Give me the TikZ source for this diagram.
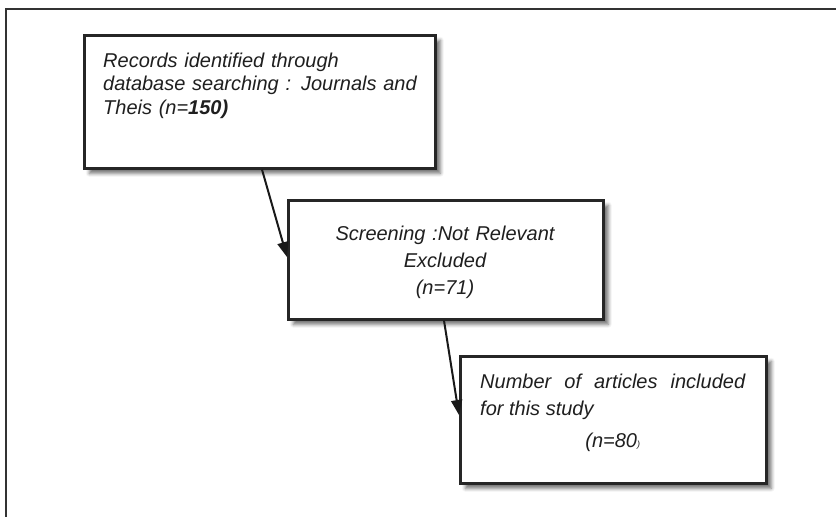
\documentclass[tikz,border=0pt]{standalone}
\usepackage{fontspec}
\setmainfont{Liberation Sans}
\usetikzlibrary{calc,shadows.blur,arrows.meta}

\tikzset{
  stepbox/.style={draw=black!85,line width=2.6pt,fill=white,inner sep=0pt,anchor=north west,
    blur shadow={shadow xshift=5pt,shadow yshift=-5pt,shadow blur radius=3.5pt,shadow opacity=55}},
  boxtext/.style={inner sep=0pt,text=black!88,font=\itshape\fontsize{20}{23.5}\selectfont},
  flowarrow/.style={line width=2pt,draw=black!90,-{Triangle[length=15pt,width=11pt]}}
}

\begin{document}
\begin{tikzpicture}[x=1pt,y=-1pt]
  \useasboundingbox (0,0) rectangle (836,517);
  \draw[line width=2.5pt,black!80] (6,517) -- (6,9) -- (836,9);

  \node[stepbox,minimum width=351pt,minimum height=133pt] (recs) at (83,34) {};
  \node[stepbox,minimum width=315pt,minimum height=119pt] (screen) at (287,199) {};
  \node[stepbox,minimum width=306pt,minimum height=127pt] (incl) at (459,355) {};

  \node[boxtext,anchor=base west,text width=330pt,align=left] (recstext) at (103,67)
    {Records identified through\\database searching : Journals and\\Theis (n=\textbf{150)}};
  \node[boxtext,anchor=base,text width=300pt,align=center,
    font=\itshape\fontsize{20}{27}\selectfont] (screentext) at (445,240)
    {Screening :Not Relevant\\Excluded\\(n=71)};
  \node[boxtext,anchor=base west,text width=265pt,align=justify,
    font=\itshape\fontsize{20}{27}\selectfont] (incltext) at (480,388)
    {Number of articles included\linebreak for this study\par\vspace{5pt}{\centering(n=80{\small)}\par}};

  \draw[flowarrow] ([xshift=179pt]recs.south west) -- ([yshift=-58pt]screen.north west);
  \draw[flowarrow] ([xshift=157pt]screen.south west) -- ([yshift=-60pt]incl.north west);
\end{tikzpicture}
\end{document}
